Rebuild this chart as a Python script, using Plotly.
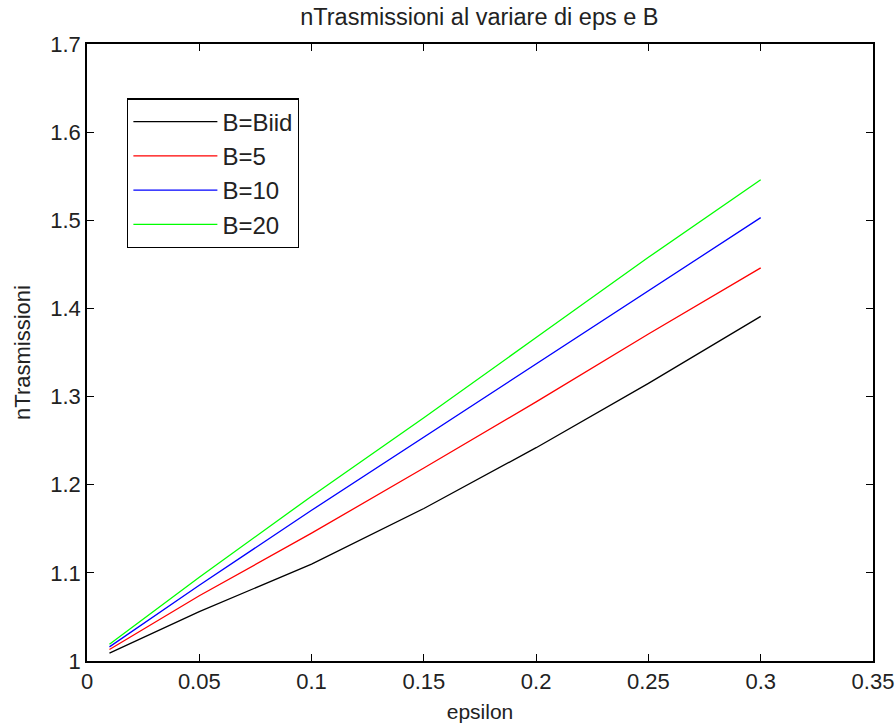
import plotly.graph_objects as go

eps = [0.01, 0.05, 0.10, 0.15, 0.20, 0.25, 0.30]
b_iid = [1.009, 1.056, 1.110, 1.173, 1.242, 1.315, 1.391]
b_5 = [1.013, 1.074, 1.145, 1.219, 1.294, 1.371, 1.446]
b_10 = [1.016, 1.086, 1.171, 1.254, 1.337, 1.421, 1.503]
b_20 = [1.019, 1.095, 1.187, 1.276, 1.367, 1.458, 1.546]

series = [("B=Biid", b_iid, "#000000"), ("B=5", b_5, "#ff0000"),
          ("B=10", b_10, "#0000ff"), ("B=20", b_20, "#00ff00")]

x_ticks = [0, 0.05, 0.1, 0.15, 0.2, 0.25, 0.3, 0.35]
x_ticklabels = ["0", "0.05", "0.1", "0.15", "0.2", "0.25", "0.3", "0.35"]
y_ticks = [1, 1.1, 1.2, 1.3, 1.4, 1.5, 1.6, 1.7]
y_ticklabels = ["1", "1.1", "1.2", "1.3", "1.4", "1.5", "1.6", "1.7"]

fig = go.Figure()
for i, (name, vals, col) in enumerate(series):
    fig.add_trace(go.Scatter(x=eps, y=vals, mode="lines", name=name,
                             legendgroup=f"g{i}",
                             line=dict(color=col, width=1.3)))

font = "Liberation Sans, Arial, sans-serif"
axis_common = dict(showline=True, linecolor="black", linewidth=1.5, mirror="ticks",
                   ticks="inside", ticklen=7, tickcolor="black", tickwidth=1.3,
                   showgrid=False, zeroline=False, automargin=False,
                   tickfont=dict(family=font, size=22, color="#222"))

fig.update_layout(
    width=896, height=726,
    paper_bgcolor="white", plot_bgcolor="white",
    margin=dict(l=87, r=23, t=44, b=65),
    title=dict(text="nTrasmissioni al variare di eps e B", x=0.535, xanchor="center",
               y=0.977, yanchor="middle",
               font=dict(family=font, size=23.5, color="#222")),
    xaxis=dict(range=[0, 0.35], tickvals=x_ticks, ticktext=x_ticklabels,
               title=dict(text="epsilon", standoff=11,
                          font=dict(family=font, size=21, color="#222")),
               **axis_common),
    yaxis=dict(range=[1, 1.7], tickvals=y_ticks, ticktext=y_ticklabels,
               title=dict(text="nTrasmissioni", standoff=14,
                          font=dict(family=font, size=22, color="#222")),
               **axis_common),
    legend=dict(x=0.051, y=0.912, xanchor="left", yanchor="top",
                bordercolor="black", borderwidth=1.3, bgcolor="white",
                font=dict(family=font, size=24, color="#222"),
                itemwidth=84, tracegroupgap=0),
    showlegend=True,
)

fig.write_html("out.html", config={"displayModeBar": False},
               post_script="document.body.style.margin='0';")
